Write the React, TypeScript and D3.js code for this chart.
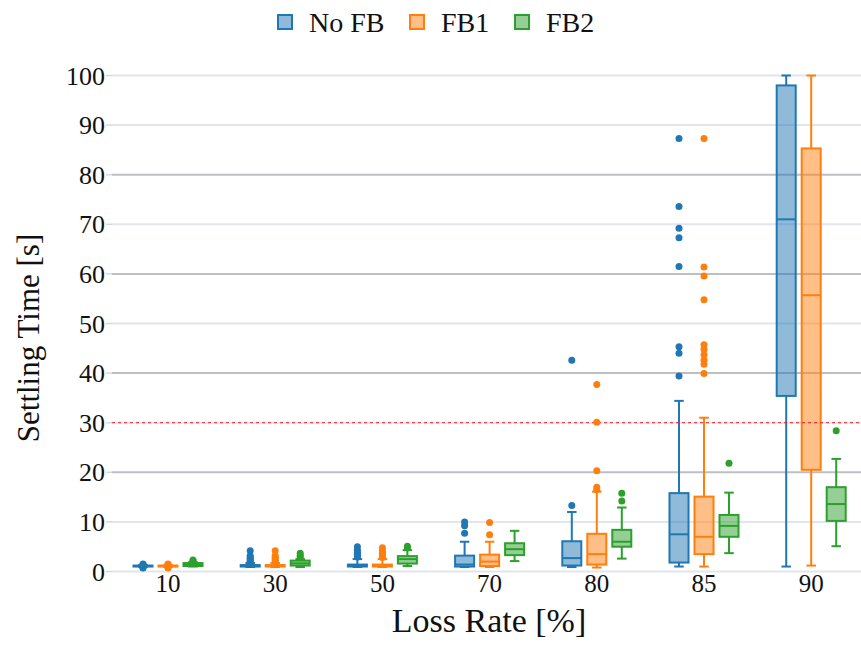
import React from 'react';
import * as d3 from 'd3';

const categories = ['10', '30', '50', '70', '80', '85', '90'];
const seriesNames = ['No FB', 'FB1', 'FB2'];
const colors = ['#1f77b4', '#ff7f0e', '#2ca02c'];

// each box: [low whisker, q1, median, q3, high whisker]
const noFbStats = [
  [0.9, 1.0, 1.1, 1.2, 1.3],
  [0.9, 1.0, 1.1, 1.3, 1.7],
  [0.9, 1.0, 1.2, 1.4, 2.5],
  [0.9, 1.0, 1.4, 3.2, 6.0],
  [0.9, 1.2, 2.7, 6.1, 12.0],
  [1.0, 1.8, 7.5, 15.8, 34.4],
  [1.0, 35.4, 71.0, 98.0, 100.0],
];
const fb1Stats = [
  [0.9, 1.0, 1.1, 1.2, 1.3],
  [0.9, 1.0, 1.1, 1.3, 1.7],
  [0.9, 1.0, 1.2, 1.4, 2.5],
  [0.9, 1.1, 2.0, 3.4, 6.0],
  [0.8, 1.4, 3.5, 7.6, 16.1],
  [1.0, 3.5, 7.0, 15.1, 31.0],
  [1.2, 20.5, 55.7, 85.3, 100.0],
];
const fb2Stats = [
  [1.0, 1.1, 1.4, 1.7, 1.9],
  [0.9, 1.2, 1.65, 2.2, 2.5],
  [1.1, 1.6, 2.5, 3.1, 4.3],
  [2.1, 3.3, 4.5, 5.7, 8.2],
  [2.6, 5.0, 6.0, 8.4, 12.9],
  [3.7, 7.0, 9.2, 11.4, 15.9],
  [5.1, 10.2, 13.6, 17.0, 22.7],
];

const noFbOutliers = [
  [1.5, 1.4, 0.8, 0.7],
  [4.2, 3.2, 2.9, 2.6, 2.3, 2.0, 1.8],
  [5.0, 4.3, 3.9, 3.5, 3.2, 2.9],
  [10.0, 9.2, 7.7],
  [42.6, 13.3],
  [87.3, 73.6, 69.2, 67.3, 61.5, 45.3, 44.0, 39.4],
  [],
];
const fb1Outliers = [
  [1.5, 1.4, 0.8, 0.7],
  [4.2, 3.2, 2.9, 2.6, 2.3, 2.0, 1.8],
  [4.8, 4.2, 3.8, 3.5, 3.1, 2.8],
  [9.9, 7.4],
  [37.7, 30.1, 20.3, 17.0, 16.5],
  [87.3, 61.4, 59.6, 54.8, 45.7, 44.8, 43.7, 42.6, 41.8, 39.9],
  [],
];
const fb2Outliers = [
  [2.3, 2.1],
  [3.7, 3.2, 2.9],
  [5.1, 4.8],
  [],
  [15.8, 14.2],
  [21.8],
  [28.4],
];

const yTicks = [0, 10, 20, 30, 40, 50, 60, 70, 80, 90, 100];
const majorGrid = [20, 40, 60, 80];
const threshold = 30;

const W = 861;
const H = 667;
const font = '"Liberation Serif", "Times New Roman", serif';

export default function App() {
  const stats = [noFbStats, fb1Stats, fb2Stats];
  const outliers = [noFbOutliers, fb1Outliers, fb2Outliers];

  const x0 = d3.scaleBand().domain(categories).range([114.4, 864.8]).padding(0);
  const x1 = d3.scaleBand().domain(seriesNames).range([-37.5, 37.5]).padding(0);
  const y = d3.scaleLinear().domain([0, 100]).range([571.5, 75.5]);

  const plotLeft = 112;
  const boxW = x1.bandwidth() * 0.76;
  const capW = boxW * 0.5;

  const cx = (ci: number, si: number) =>
    (x0(categories[ci]) as number) + x0.bandwidth() / 2 + (x1(seriesNames[si]) as number) + x1.bandwidth() / 2;

  const legendX = [278, 410, 515];

  return (
    <svg width={W} height={H} style={{ position: 'absolute', left: 0, top: 0, display: 'block', background: '#fff' }}>
      {/* grid */}
      {yTicks.map(t => (
        <line key={'g' + t} x1={plotLeft} x2={W} y1={y(t)} y2={y(t)}
          stroke={majorGrid.includes(t) ? '#bdbfc4' : '#e2e5ec'} strokeWidth={2} />
      ))}
      {/* y ticks and labels */}
      {yTicks.map(t => (
        <g key={'t' + t}>
          <line x1={106} x2={plotLeft} y1={y(t)} y2={y(t)} stroke="#d3d7df" strokeWidth={1.5} />
          <text x={105} y={y(t)} dy="0.35em" textAnchor="end" fontFamily={font} fontSize={26} fill="#111">{t}</text>
        </g>
      ))}
      {/* x labels */}
      {categories.map(c => (
        <text key={'x' + c} x={(x0(c) as number) + x0.bandwidth() / 2} y={592} textAnchor="middle"
          fontFamily={font} fontSize={25} fill="#111">{c}</text>
      ))}
      <text x={489} y={632} textAnchor="middle" fontFamily={font} fontSize={34} fill="#111">Loss Rate [%]</text>
      <text transform={`translate(39, 338) rotate(-90)`} textAnchor="middle" fontFamily={font} fontSize={31} fill="#111">Settling Time [s]</text>

      {/* boxes */}
      {stats.map((series, si) => (
        <g key={'s' + si}>
          {series.map((b, ci) => {
            const [lo, q1, med, q3, hi] = b;
            const c = cx(ci, si);
            const col = colors[si];
            return (
              <g key={ci}>
                <line x1={c} x2={c} y1={y(hi)} y2={y(q3)} stroke={col} strokeWidth={2} />
                <line x1={c} x2={c} y1={y(q1)} y2={y(lo)} stroke={col} strokeWidth={2} />
                <line x1={c - capW / 2} x2={c + capW / 2} y1={y(hi)} y2={y(hi)} stroke={col} strokeWidth={2} />
                <line x1={c - capW / 2} x2={c + capW / 2} y1={y(lo)} y2={y(lo)} stroke={col} strokeWidth={2} />
                <rect x={c - boxW / 2} y={y(q3)} width={boxW} height={Math.max(0, y(q1) - y(q3))}
                  fill={col} fillOpacity={0.5} stroke={col} strokeWidth={2} />
                <line x1={c - boxW / 2} x2={c + boxW / 2} y1={y(med)} y2={y(med)} stroke={col} strokeWidth={2} />
              </g>
            );
          })}
        </g>
      ))}

      {/* threshold */}
      <line x1={plotLeft} x2={W} y1={y(threshold)} y2={y(threshold)} stroke="#e8202a" strokeWidth={1} strokeDasharray="3,3" />

      {/* outliers */}
      {outliers.map((series, si) => (
        <g key={'o' + si}>
          {series.map((pts, ci) =>
            pts.map((v, k) => (
              <circle key={ci + '-' + k} cx={cx(ci, si)} cy={y(v)} r={3.5} fill={colors[si]} />
            ))
          )}
        </g>
      ))}

      {/* legend */}
      {seriesNames.map((n, i) => (
        <g key={'l' + n}>
          <rect x={legendX[i]} y={15} width={14} height={14} fill={colors[i]} fillOpacity={0.5}
            stroke={colors[i]} strokeWidth={2} />
          <text x={legendX[i] + 31} y={22} dy="0.35em" fontFamily={font} fontSize={28} fill="#111">{n}</text>
        </g>
      ))}
    </svg>
  );
}
